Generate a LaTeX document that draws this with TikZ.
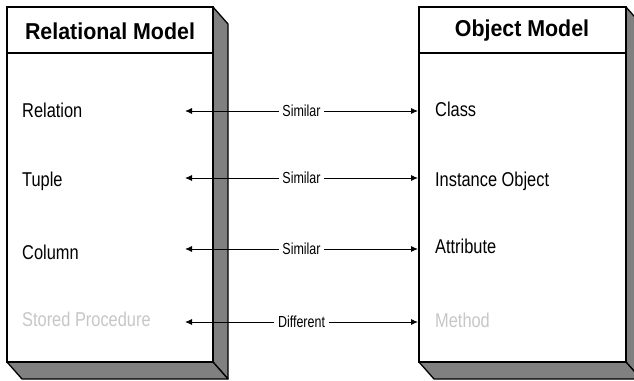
\documentclass[tikz,border=0pt]{standalone}
\usepackage{fontspec}
\setmainfont{Liberation Sans}
\usepackage{tikz}
\usetikzlibrary{arrows.meta}

\begin{document}
\begin{tikzpicture}[x=1pt,y=-1pt,
    face/.style={draw, line width=1.3pt, fill=white},
    side/.style={draw, line width=1.3pt, fill=black!50, line join=round},
    head/.style={font=\fontsize{23}{23}\selectfont\bfseries, xscale=0.93},
    item/.style={anchor=base west, inner sep=0pt, font=\fontsize{20}{20}\selectfont, xscale=0.82},
    dim/.style={text=black!22},
    lbl/.style={fill=white, inner xsep=5pt, inner ysep=3pt, font=\fontsize{16}{16}\selectfont, xscale=0.78},
    biarrow/.style={line width=0.9pt, {Latex[length=7pt,width=6pt]}-{Latex[length=7pt,width=6pt]}}]
    \clip (0,0) rectangle (634,380);

    % relational box
    \draw[side] (213,7) -- (228,24) -- (228,379) -- (213,362) -- cycle;
    \draw[side] (7,362) -- (213,362) -- (228,379) -- (22,379) -- cycle;
    \draw[face] (7,7) rectangle (213,362);
    \draw[line width=1.3pt] (7,53) -- (213,53);
    \node[head] (relhead) at (110,31) {Relational Model};

    % object box
    \draw[side] (626,7) -- (641,24) -- (641,379) -- (626,362) -- cycle;
    \draw[side] (419,362) -- (626,362) -- (641,379) -- (434,379) -- cycle;
    \draw[face] (419,7) rectangle (626,362);
    \draw[line width=1.3pt] (419,53) -- (626,53);
    \node[head] (objhead) at (522,31) {Object Model};

    \node[item] (relation) at (22,117) {Relation};
    \node[item] (tuple) at (22,186) {Tuple};
    \node[item] (column) at (22,259) {Column};
    \node[item,dim] (stored) at (22,326) {Stored Procedure};

    \node[item] (class) at (435,116) {Class};
    \node[item] (instance) at (435,186) {Instance Object};
    \node[item] (attribute) at (435,253) {Attribute};
    \node[item,dim] (method) at (435,327) {Method};

    \coordinate (relL) at (185,111);  \coordinate (relR) at (418,111);
    \coordinate (tupL) at (185,178);  \coordinate (tupR) at (418,178);
    \coordinate (colL) at (185,249);  \coordinate (colR) at (418,249);
    \coordinate (proL) at (185,322);  \coordinate (proR) at (418,322);

    \draw[biarrow] (relL) -- node[lbl] (sim1) {Similar} (relR);
    \draw[biarrow] (tupL) -- node[lbl] (sim2) {Similar} (tupR);
    \draw[biarrow] (colL) -- node[lbl] (sim3) {Similar} (colR);
    \draw[biarrow] (proL) -- node[lbl] (diff) {Different} (proR);
  \end{tikzpicture}
\end{document}
